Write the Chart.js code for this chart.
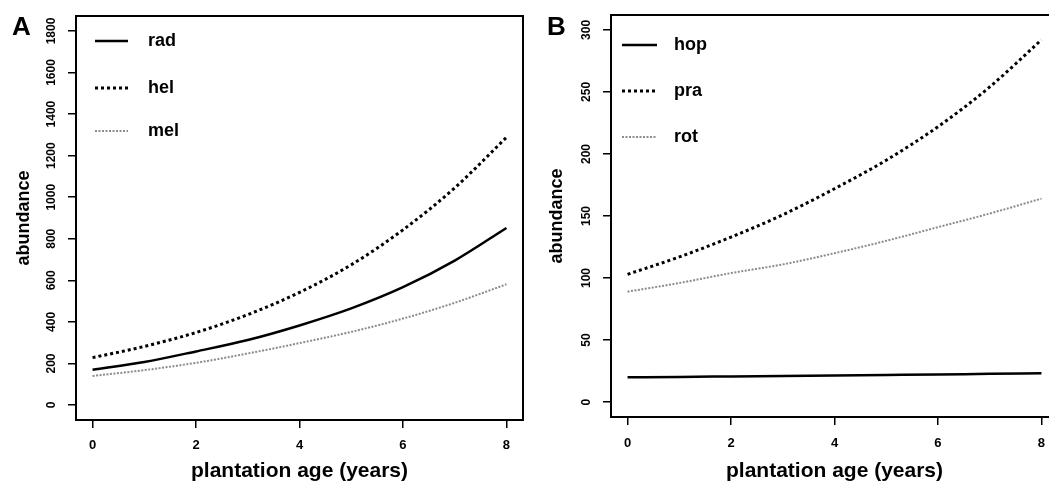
<!DOCTYPE html>
<html>
<head>
<meta charset="utf-8">
<script src="https://cdn.jsdelivr.net/npm/chart.js@4.4.1/dist/chart.umd.min.js"></script>
<style>
html, body { margin: 0; padding: 0; background: #fff; overflow: hidden; width: 1049px; height: 484px; }
canvas { position: absolute; top: 0; }
#chartA { left: 0; }
#chartB { left: 535px; }
</style>
</head>
<body>
<canvas id="chartA" width="535" height="484"></canvas>
<canvas id="chartB" width="535" height="484"></canvas>
<script>
// ---- data ----
const ages = [0, 1, 2, 3, 4, 5, 6, 7, 8];
const xTicks = [0, 2, 4, 6, 8];

const radValues = [170, 207, 258, 313, 383, 465, 567, 695, 852];
const helValues = [228, 282, 349, 435, 542, 675, 843, 1045, 1288];
const melValues = [140, 168, 203, 248, 298, 352, 416, 492, 581];
const yTicksA = [0, 200, 400, 600, 800, 1000, 1200, 1400, 1600, 1800];

const hopValues = [20, 20.3, 20.7, 21.1, 21.5, 21.9, 22.3, 22.8, 23.2];
const praValues = [103, 117, 133, 151, 172, 195, 222, 254, 292];
const rotValues = [89, 96, 104, 111, 120, 130, 141, 152, 164];
const yTicksB = [0, 50, 100, 150, 200, 250, 300];

const FONT = "'Liberation Sans', Arial, sans-serif";

// line looks used in both panels
const solidLine = { color: '#000', width: 2.5, dash: [] };
const dotLine = { color: '#000', width: 3, dash: [3, 3] };
const greyLine = { color: '#8c8c8c', width: 2, dash: [2, 1.5] };

// ---- panel letter, frame and legend ----
const panelDecor = {
    id: 'panelDecor',
    afterDraw(chart, args, opts) {
        const ctx = chart.ctx;
        const area = chart.chartArea;
        ctx.save();

        // box around plot
        ctx.strokeStyle = '#000';
        ctx.lineWidth = 2;
        ctx.strokeRect(area.left, area.top, area.right - area.left, area.bottom - area.top);

        // panel letter
        ctx.fillStyle = '#000';
        ctx.font = 'bold 26px ' + FONT;
        ctx.textBaseline = 'alphabetic';
        ctx.textAlign = 'left';
        ctx.fillText(opts.letter, 12, 35);

        // legend
        ctx.font = 'bold 18px ' + FONT;
        ctx.textBaseline = 'middle';
        chart.data.datasets.forEach((ds, i) => {
            const y = opts.legendY[i];
            ctx.beginPath();
            ctx.setLineDash(ds.borderDash || []);
            ctx.strokeStyle = ds.borderColor;
            ctx.lineWidth = ds.borderWidth;
            ctx.moveTo(area.left + opts.lineX0, y);
            ctx.lineTo(area.left + opts.lineX1, y);
            ctx.stroke();
            ctx.setLineDash([]);
            ctx.fillStyle = '#000';
            ctx.fillText(ds.label, area.left + opts.textX, y);
        });
        ctx.restore();
    }
};

function makeChart(id, cfg) {
    return new Chart(document.getElementById(id), {
        type: 'line',
        data: {
            datasets: cfg.series.map(s => ({
                label: s.label,
                data: ages.map((a, i) => ({ x: a, y: s.values[i] })),
                borderColor: s.style.color,
                borderWidth: s.style.width,
                borderDash: s.style.dash,
                pointRadius: 0,
                fill: false,
                cubicInterpolationMode: 'monotone'
            }))
        },
        options: {
            responsive: false,
            animation: false,
            devicePixelRatio: 1,
            layout: { padding: { top: cfg.top, right: 12, left: 0, bottom: 0 } },
            plugins: {
                legend: { display: false },
                tooltip: { enabled: false },
                panelDecor: cfg.decor
            },
            scales: {
                x: {
                    type: 'linear',
                    min: -0.32,
                    max: 8.32,
                    afterBuildTicks: s => { s.ticks = xTicks.map(v => ({ value: v })); },
                    afterFit: s => { s.height = cfg.xHeight; },
                    grid: { display: true, drawOnChartArea: false, drawTicks: true, tickLength: 8, color: '#000', lineWidth: 1.5 },
                    border: { display: true, color: '#000', width: 2 },
                    ticks: {
                        color: '#000',
                        padding: cfg.xTickPad,
                        maxRotation: 0,
                        autoSkip: false,
                        callback: v => String(v),
                        font: { family: FONT, weight: 'bold', size: 13 }
                    },
                    title: {
                        display: true,
                        text: 'plantation age (years)',
                        color: '#000',
                        padding: { top: 0, bottom: 0 },
                        font: { family: FONT, weight: 'bold', size: 21 }
                    }
                },
                y: {
                    type: 'linear',
                    min: cfg.yMin,
                    max: cfg.yMax,
                    afterBuildTicks: s => { s.ticks = cfg.yTicks.map(v => ({ value: v })); },
                    afterFit: s => { s.width = 76; },
                    grid: { display: true, drawOnChartArea: false, drawTicks: true, tickLength: 8, color: '#000', lineWidth: 1.5 },
                    border: { display: true, color: '#000', width: 2 },
                    ticks: {
                        color: '#000',
                        minRotation: 90,
                        maxRotation: 90,
                        crossAlign: 'center',
                        padding: cfg.yTickPad,
                        autoSkip: false,
                        callback: v => String(v),
                        font: { family: FONT, weight: 'bold', size: 12 }
                    },
                    title: {
                        display: true,
                        text: 'abundance',
                        color: '#000',
                        padding: { top: cfg.yTitlePad, bottom: 0 },
                        font: { family: FONT, weight: 'bold', size: 18 }
                    }
                }
            }
        },
        plugins: [panelDecor]
    });
}

// ================= PANEL A =================
makeChart('chartA', {
    series: [
        { label: 'rad', values: radValues, style: solidLine },
        { label: 'hel', values: helValues, style: dotLine },
        { label: 'mel', values: melValues, style: greyLine }
    ],
    yTicks: yTicksA,
    yMin: -72, yMax: 1872,
    top: 16, xHeight: 64, xTickPad: 10, yTickPad: 3, yTitlePad: 13,
    decor: { letter: 'A', legendY: [41, 88, 131], lineX0: 19, lineX1: 52, textX: 72 }
});

// ================= PANEL B =================
makeChart('chartB', {
    series: [
        { label: 'hop', values: hopValues, style: solidLine },
        { label: 'pra', values: praValues, style: dotLine },
        { label: 'rot', values: rotValues, style: greyLine }
    ],
    yTicks: yTicksB,
    yMin: -12, yMax: 312,
    top: 15, xHeight: 67, xTickPad: 11, yTickPad: 6, yTitlePad: 11,
    decor: { letter: 'B', legendY: [45, 91, 137], lineX0: 11, lineX1: 46, textX: 63 }
});
</script>
</body>
</html>
